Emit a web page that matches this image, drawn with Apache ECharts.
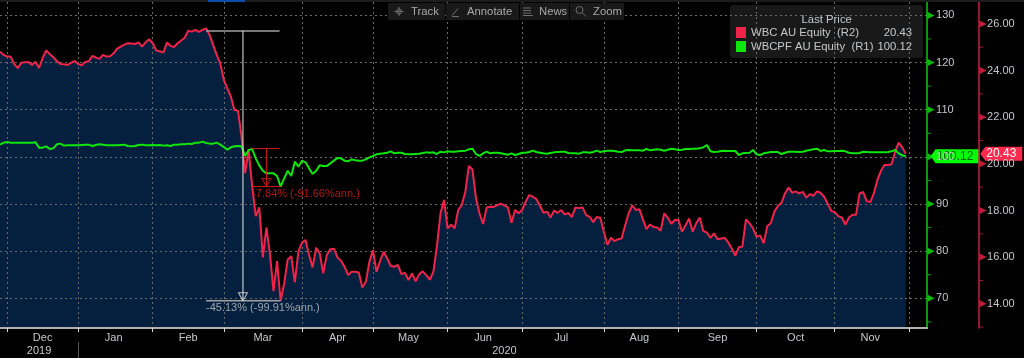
<!DOCTYPE html>
<html>
<head>
<meta charset="utf-8">
<style>
html, body { margin: 0; padding: 0; background: #000; }
#chart { width: 1024px; height: 358px; }
</style>
<script src="https://cdn.jsdelivr.net/npm/echarts@6/dist/echarts.min.js"></script>
</head>
<body>
<div id="chart"></div>
<script>
// trading days per month on the ASX, first two days are the end of Nov 2019, last six pad the axis
var monthNames = ['Dec', 'Jan', 'Feb', 'Mar', 'Apr', 'May', 'Jun', 'Jul', 'Aug', 'Sep', 'Oct', 'Nov'];
var monthDays = [20, 21, 20, 22, 20, 21, 21, 23, 21, 22, 22, 21];
var leadDays = 2;
var trailDays = 6;

var wbcPrice = [
    24.81, 24.67, 24.60, 24.60, 24.28, 24.10, 24.34, 24.36, 24.37, 24.24, 24.38, 24.11, 24.53, 24.86, 24.71, 24.57,
    24.41, 24.28, 24.27, 24.24, 24.33, 24.41, 24.28, 24.23, 24.37, 24.40, 24.63, 24.56, 24.50, 24.67, 24.60, 24.61,
    24.74, 24.94, 25.03, 25.11, 25.17, 25.16, 25.14, 25.21, 25.03, 25.21, 25.34, 25.17, 24.86, 24.83, 24.77, 25.20,
    25.06, 25.01, 25.17, 25.29, 25.41, 25.71, 25.67, 25.74, 25.66, 25.74, 25.81, 25.53, 25.10, 24.67, 24.31, 23.60,
    23.24, 22.88, 22.31, 22.28, 21.17, 19.60, 20.60, 19.02, 17.76, 18.13, 15.99, 17.27, 16.13, 14.54, 15.83, 14.13,
    14.87, 15.90, 16.04, 14.92, 16.23, 16.62, 16.73, 16.09, 15.56, 16.40, 16.16, 15.30, 16.09, 16.34, 16.36, 15.99,
    15.84, 15.59, 15.23, 15.37, 15.37, 15.34, 14.70, 14.94, 15.80, 16.30, 15.37, 15.83, 16.23, 15.94, 15.62, 15.59,
    15.67, 15.27, 15.33, 15.02, 15.30, 14.96, 15.26, 15.39, 15.23, 15.03, 15.37, 16.45, 17.87, 18.45, 17.23, 17.39,
    17.23, 18.02, 18.23, 18.80, 19.91, 19.76, 18.52, 17.87, 17.42, 18.13, 18.16, 18.15, 18.23, 18.29, 18.22, 18.13,
    17.47, 18.02, 17.88, 18.02, 18.38, 18.66, 18.59, 18.49, 18.20, 17.90, 17.95, 17.70, 18.00, 17.90, 18.02, 17.83,
    17.89, 17.72, 18.13, 18.10, 18.13, 17.80, 17.73, 17.50, 17.72, 17.69, 17.09, 16.53, 16.83, 16.69, 16.77, 16.80,
    17.37, 17.88, 18.22, 18.02, 18.05, 17.62, 17.20, 17.40, 17.29, 17.27, 17.13, 17.88, 17.69, 17.43, 17.59, 17.59,
    17.09, 17.37, 17.66, 17.09, 17.45, 17.70, 17.12, 17.05, 16.83, 17.02, 16.77, 16.80, 16.82, 16.63, 16.37, 16.07,
    16.42, 16.45, 17.62, 17.45, 17.23, 16.87, 16.93, 16.59, 17.33, 17.45, 17.95, 18.19, 18.33, 18.73, 18.99, 18.76,
    18.82, 18.73, 18.80, 18.55, 18.70, 18.63, 18.82, 18.76, 18.59, 18.30, 17.99, 17.93, 17.76, 17.70, 17.40, 17.70,
    17.82, 17.82, 18.73, 18.79, 18.40, 18.36, 18.73, 19.30, 19.70, 19.95, 19.95, 19.98, 20.52, 20.91, 20.71, 20.43
];

var wbcpfPrice = [
    102.59, 103.01, 103.15, 103.01, 103.01, 103.01, 103.01, 103.01, 103.01, 103.01, 103.08, 101.95, 101.95, 102.23, 101.67, 101.81,
    102.66, 102.80, 102.38, 102.45, 102.45, 102.45, 102.45, 102.52, 102.59, 102.59, 102.31, 102.52, 102.66, 102.59, 102.45, 102.45,
    102.45, 102.45, 102.52, 102.59, 102.31, 102.23, 102.31, 102.52, 102.59, 102.45, 102.45, 102.52, 102.45, 102.52, 102.38, 102.45,
    102.31, 102.59, 102.59, 102.66, 102.66, 102.80, 102.73, 103.01, 103.01, 103.22, 102.94, 102.80, 102.80, 103.01, 102.59, 102.09,
    101.53, 102.02, 102.23, 102.31, 102.23, 100.18, 101.45, 101.66, 99.68, 98.13, 97.06, 96.50, 96.50, 96.50, 95.93, 93.67,
    95.44, 97.06, 95.93, 98.97, 97.91, 99.19, 98.83, 97.56, 96.36, 97.06, 98.20, 98.05, 98.05, 98.62, 99.19, 99.75,
    99.68, 99.19, 99.05, 99.47, 99.26, 99.19, 99.19, 99.47, 99.89, 100.18, 100.53, 100.67, 100.74, 100.88, 101.17, 100.74,
    100.88, 100.88, 100.60, 100.53, 100.53, 100.60, 100.67, 100.81, 100.95, 100.88, 100.95, 100.60, 101.09, 100.95, 101.17, 101.09,
    101.09, 101.17, 101.24, 101.31, 101.59, 101.73, 100.60, 100.18, 100.74, 101.09, 100.74, 100.88, 100.88, 100.74, 100.60, 100.46,
    100.74, 100.39, 100.60, 100.88, 100.88, 101.02, 101.31, 101.02, 100.88, 100.74, 100.67, 100.81, 100.95, 101.02, 101.09, 101.09,
    100.81, 100.74, 100.74, 100.67, 100.95, 100.95, 100.88, 101.02, 101.31, 101.02, 101.17, 101.31, 101.31, 101.24, 101.09, 101.02,
    101.38, 101.45, 101.38, 101.38, 101.38, 101.31, 101.66, 101.38, 101.52, 101.59, 101.52, 101.31, 101.52, 101.73, 101.59, 101.45,
    101.52, 101.66, 101.66, 101.73, 101.73, 101.80, 102.01, 102.51, 101.17, 101.02, 101.09, 101.24, 101.31, 101.24, 101.24, 101.24,
    100.39, 100.74, 100.81, 100.88, 101.45, 100.53, 100.39, 100.74, 100.88, 101.02, 101.02, 101.02, 100.60, 100.88, 101.09, 101.09,
    101.09, 101.02, 101.09, 101.31, 101.45, 101.59, 101.73, 101.24, 101.45, 101.17, 101.17, 101.24, 101.24, 101.31, 101.17, 100.88,
    100.74, 100.74, 100.81, 101.09, 101.02, 100.95, 100.95, 100.95, 100.95, 100.95, 101.02, 101.17, 101.45, 100.74, 100.32, 100.12
];

var r1Ticks = [70, 80, 90, 100, 110, 120, 130];
var r1MinorTicks = [65, 75, 85, 95, 105, 115, 125];
var r2Ticks = [14, 16, 18, 20, 22, 24, 26];
var r2MinorTicks = [13, 15, 17, 19, 21, 23, 25];

// drawdown study lines, [day index, price]
var wbcDropTop = [[58, 25.70], [78.7, 25.70]];
var wbcDropStem = [[68.4, 25.70], [68.4, 14.13]];
var wbcDropBottom = [[58, 14.13], [79, 14.13]];
var wbcDropText = '-45.13% (-99.91%ann.)';
var wbcpfDropTop = [[71, 101.75], [78.7, 101.75]];
var wbcpfDropStem = [[75, 101.75], [75, 93.70]];
var wbcpfDropBottom = [[71, 93.70], [79, 93.70]];
var wbcpfDropText = '-7.84% (-91.66%ann.)';

var FONT = '"Liberation Sans", Arial, sans-serif';
var LABEL = '#c4c8cc';
var RED = '#f0244a';
var GREEN = '#0ee60e';
var AXIS_RED = '#c4203c';
var AXIS_GREEN = '#12c412';
var ICON = '#6e6e6e';

// category per trading day, and where each month begins / sits
var categories = [];
var monthStart = {};
var monthMiddle = {};
(function () {
    var i, k;
    for (i = 0; i < leadDays; i++) categories.push('');
    for (k = 0; k < monthDays.length; k++) {
        monthStart[categories.length] = true;
        monthMiddle[categories.length + Math.floor(monthDays[k] / 2)] = monthNames[k];
        for (i = 0; i < monthDays[k]; i++) categories.push(monthNames[k]);
    }
    monthStart[categories.length] = true;
    for (i = 0; i < trailDays; i++) categories.push('');
})();
var lastIndex = categories.length - 1;
var lastDay = wbcPrice.length - 1;

function isMonthStart(index) { return !!monthStart[index]; }

function segment(pts, color, width, yIndex) {
    return {
        type: 'line', xAxisIndex: 2, yAxisIndex: yIndex, data: pts, symbol: 'none', silent: true, z: 7,
        lineStyle: { color: color, width: width }
    };
}

function axisMarks(ticks, yIndex, color, symbol, size, rotate, offset) {
    return {
        type: 'scatter', xAxisIndex: 2, yAxisIndex: yIndex, clip: false, silent: true, z: 7,
        data: ticks.map(function (v) { return [lastIndex, v]; }),
        symbol: symbol, symbolSize: size, symbolRotate: rotate, symbolOffset: offset,
        itemStyle: { color: color }
    };
}

function dropMark(point, color, yIndex) {
    return {
        type: 'scatter', xAxisIndex: 2, yAxisIndex: yIndex, clip: false, silent: true, z: 7,
        data: [point], symbol: 'triangle', symbolSize: [9, 8], symbolRotate: 180, symbolOffset: [0, -4],
        itemStyle: { color: 'rgba(0,0,0,0)', borderColor: color, borderWidth: 1 }
    };
}

function dropText(point, text, color, yIndex) {
    return {
        type: 'scatter', xAxisIndex: 2, yAxisIndex: yIndex, clip: false, silent: true, z: 7,
        data: [point], symbolSize: 0,
        label: {
            show: true, position: 'right', distance: 0, offset: [0, 7], color: color,
            fontFamily: FONT, fontSize: 11, formatter: text
        }
    };
}

// price flag beside the axis, pointing left
function lastTag(value, text, color, textColor, dx, width) {
    return {
        symbol: 'none',
        data: [{
            coord: [lastDay, value],
            symbol: 'path://M0,7 L5,0 L' + width + ',0 L' + width + ',14 L5,14 Z',
            symbolSize: [width, 14], symbolOffset: [dx, 0],
            itemStyle: { color: color },
            label: { show: true, position: 'inside', color: textColor, fontFamily: FONT, fontSize: 12, formatter: text }
        }]
    };
}

function toolButton(x, w, label, tx) {
    return [
        { type: 'rect', z: 20, shape: { x: x, y: 3, width: w, height: 17 }, style: { fill: '#191919' } },
        { type: 'text', z: 21, x: tx, y: 6, style: { text: label, fill: '#a8a8a8', font: '11.3px ' + FONT } }
    ];
}

function iconLine(x1, y1, x2, y2) {
    return { type: 'line', z: 21, shape: { x1: x1, y1: y1, x2: x2, y2: y2 }, style: { stroke: ICON, lineWidth: 1 } };
}

var chart = echarts.init(document.getElementById('chart'));

var gridLine = { show: true, lineStyle: { color: '#6a6a6a', type: [2, 3], width: 1 } };

var option = {
    backgroundColor: '#000',
    animation: false,
    grid: { left: -2.4, top: 2, width: 929.5, height: 326, containLabel: false },
    legend: {
        left: 730, top: 5, orient: 'vertical', selectedMode: false, itemGap: 3,
        padding: [22, 11, 6, 6], backgroundColor: '#191919', borderRadius: 3,
        data: ['WBC AU Equity', 'WBCPF AU Equity'], itemWidth: 10, itemHeight: 11, icon: 'rect',
        formatter: function (name) {
            return name === 'WBC AU Equity'
                ? '{n|WBC AU Equity  (R2)}{v|20.43}'
                : '{n|WBCPF AU Equity  (R1)}{v|100.12}';
        },
        textStyle: {
            rich: {
                n: { color: LABEL, fontFamily: FONT, fontSize: 11.3, width: 123 },
                v: { color: LABEL, fontFamily: FONT, fontSize: 11.3, width: 38, align: 'right' }
            }
        }
    },
    xAxis: [{
        type: 'category', data: categories, boundaryGap: false, z: 5,
        axisLine: { lineStyle: { color: '#b0b0b0', width: 2 } },
        axisTick: { interval: isMonthStart, length: 4, lineStyle: { color: '#d8d8d8' } },
        splitLine: { show: true, interval: isMonthStart, lineStyle: gridLine.lineStyle },
        axisLabel: {
            margin: 4, color: LABEL, fontFamily: FONT, fontSize: 11, hideOverlap: false,
            interval: function (index) { return !!monthMiddle[index]; },
            formatter: function (value, index) { return monthMiddle[index] || ''; }
        }
    }, {
        // year row under the months
        type: 'category', data: categories, boundaryGap: false, offset: 14, position: 'bottom',
        axisLine: { show: false },
        axisTick: { interval: function (index) { return index === leadDays + monthDays[0]; }, length: 16, lineStyle: { color: '#555' } },
        axisLabel: {
            margin: 3, color: LABEL, fontFamily: FONT, fontSize: 11,
            interval: function (index) { return index === 11 || index === 142; },
            formatter: function (value, index) { return index === 11 ? '2019' : '2020'; }
        }
    }, {
        // same span as the day categories, lets the study lines sit between days
        type: 'value', min: 0, max: lastIndex, show: false
    }],
    yAxis: [{
        type: 'value', position: 'right', min: 63.7, max: 132.84, z: 5,
        axisLine: { show: true, onZero: false, lineStyle: { color: AXIS_GREEN, width: 1.5 } },
        axisTick: { show: false, customValues: r1Ticks },
        splitLine: gridLine,
        axisLabel: { customValues: r1Ticks, margin: 9, color: LABEL, fontFamily: FONT, fontSize: 11 }
    }, {
        type: 'value', position: 'right', offset: 52, min: 12.96, max: 26.94, z: 5,
        axisLine: { show: true, onZero: false, lineStyle: { color: AXIS_RED, width: 1.5 } },
        axisTick: { show: false, customValues: r2Ticks },
        splitLine: { show: false },
        axisLabel: {
            customValues: r2Ticks, margin: 8, color: LABEL, fontFamily: FONT, fontSize: 11,
            formatter: function (v) { return v.toFixed(2); }
        }
    }],
    series: [{
        // fill sits under the grid lines, the line itself above them
        name: 'WBC fill', type: 'line', xAxisIndex: 0, yAxisIndex: 1, data: wbcPrice, symbol: 'none', silent: true, z: 1,
        lineStyle: { width: 0 }, areaStyle: { color: '#04203e', opacity: 1, origin: 'start' }
    }, {
        name: 'WBC AU Equity', type: 'line', xAxisIndex: 0, yAxisIndex: 1, data: wbcPrice, symbol: 'none', z: 6,
        itemStyle: { color: RED }, lineStyle: { color: RED, width: 2 },
        markPoint: lastTag(20.43, '20.43', '#ff2b4e', '#fff', 95.5, 42)
    }, {
        name: 'WBCPF AU Equity', type: 'line', xAxisIndex: 0, yAxisIndex: 0, data: wbcpfPrice, symbol: 'none', z: 6,
        itemStyle: { color: GREEN }, lineStyle: { color: GREEN, width: 2 },
        markPoint: lastTag(100.12, '100.12', '#00ff00', '#0a5a0a', 49.3, 49)
    },
    segment(wbcDropTop, '#a0a0a0', 1.5, 1),
    segment(wbcDropStem, '#e8e8e8', 1, 1),
    segment(wbcDropBottom, '#a0a0a0', 1.5, 1),
    dropMark(wbcDropStem[1], '#e8e8e8', 1),
    dropText(wbcDropBottom[0], wbcDropText, '#c0c4c8', 1),
    segment(wbcpfDropTop, '#d01818', 1, 0),
    segment(wbcpfDropStem, '#d01818', 1, 0),
    segment(wbcpfDropBottom, '#d01818', 1, 0),
    dropMark(wbcpfDropStem[1], '#d01818', 0),
    dropText(wbcpfDropBottom[0], wbcpfDropText, '#e01c1c', 0),
    axisMarks(r1Ticks, 0, GREEN, 'triangle', [7, 7], -90, [4, 0]),
    axisMarks(r1MinorTicks, 0, AXIS_GREEN, 'rect', [4, 1], 0, [2, 0]),
    axisMarks(r2Ticks, 1, RED, 'triangle', [7, 7], -90, [56, 0]),
    axisMarks(r2MinorTicks, 1, AXIS_RED, 'rect', [4, 1], 0, [54, 0])
    ],
    graphic: [
        { type: 'rect', z: 19, shape: { x: 0, y: 0, width: 1024, height: 2 }, style: { fill: '#1c1c1c' } },
        { type: 'rect', z: 20, shape: { x: 208, y: 0, width: 37, height: 2 }, style: { fill: '#0a4fa8' } },
        { type: 'text', z: 21, x: 826.7, y: 14, style: { text: 'Last Price', fill: LABEL, font: '11.3px ' + FONT, textAlign: 'center' } }
    ].concat(
        toolButton(388, 57, 'Track', 411),
        toolButton(446, 73, 'Annotate', 467),
        toolButton(520, 49, 'News', 539),
        toolButton(570, 54, 'Zoom', 593),
        [
            // crosshair
            iconLine(399, 7, 399, 16), iconLine(394.5, 11.5, 403.5, 11.5),
            { type: 'circle', z: 21, shape: { cx: 399, cy: 11.5, r: 2.5 }, style: { fill: 'none', stroke: ICON } },
            // pen
            iconLine(452, 15.5, 458, 8.5), iconLine(452, 16.5, 459, 16.5),
            // news lines
            iconLine(523, 8, 531, 8), iconLine(523, 10.5, 531, 10.5), iconLine(523, 13, 531, 13), iconLine(523, 15.5, 533, 15.5),
            // magnifier
            { type: 'circle', z: 21, shape: { cx: 579.5, cy: 10, r: 3.5 }, style: { fill: 'none', stroke: ICON } },
            iconLine(582, 12.5, 586, 16.5)
        ]
    )
};

chart.setOption(option);
</script>
</body>
</html>
